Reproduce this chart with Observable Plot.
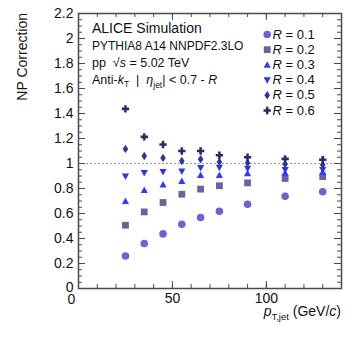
<!DOCTYPE html>
<html>
<head>
<meta charset="utf-8">
<script src="https://cdn.jsdelivr.net/npm/d3@7"></script>
<script src="https://cdn.jsdelivr.net/npm/@observablehq/plot@0.6"></script>
<style>
  html, body { margin: 0; padding: 0; background: #fff; }
  #chart { position: relative; width: 355px; height: 340px; }
  svg { font-family: "Liberation Sans", Arial, Helvetica, sans-serif; }
</style>
</head>
<body>
<div id="chart"></div>
<script>
// ---- data ----
const ptJet = [25, 35, 45, 55, 65, 75, 90, 110, 130];
const npR01 = [0.26, 0.36, 0.437, 0.514, 0.568, 0.618, 0.674, 0.738, 0.774];
const npR02 = [0.506, 0.613, 0.688, 0.754, 0.795, 0.822, 0.845, 0.88, 0.895];
const npR03 = [0.698, 0.786, 0.83, 0.858, 0.906, 0.906, 0.92, 0.925, 0.93];
const npR04 = [0.898, 0.925, 0.933, 0.938, 0.965, 0.968, 0.96, 0.95, 0.95];
const npR05 = [1.117, 1.06, 1.045, 1.02, 1.034, 1.013, 1.005, 0.995, 0.99];
const npR06 = [1.437, 1.213, 1.152, 1.10, 1.10, 1.066, 1.05, 1.037, 1.03];
const radiusLabels = ["0.1", "0.2", "0.3", "0.4", "0.5", "0.6"];
const xTickLabels = [0, 50, 100];
const yTickLabels = [0, 0.2, 0.4, 0.6, 0.8, 1, 1.2, 1.4, 1.6, 1.8, 2, 2.2];

// ---- custom ROOT-like marker shapes ----
const sym = {
  circle: { draw(c, size) { const r = Math.sqrt(size / Math.PI) * 0.95; c.moveTo(r, 0); c.arc(0, 0, r, 0, 2 * Math.PI); } },
  square: { draw(c, size) { const h = Math.sqrt(size / Math.PI) * 0.85; c.rect(-h, -h, 2 * h, 2 * h); } },
  triUp: { draw(c, size) { const r = Math.sqrt(size / Math.PI); c.moveTo(0, -0.92 * r); c.lineTo(0.9 * r, 0.7 * r); c.lineTo(-0.9 * r, 0.7 * r); c.closePath(); } },
  triDown: { draw(c, size) { const r = Math.sqrt(size / Math.PI); c.moveTo(0, 0.92 * r); c.lineTo(0.9 * r, -0.7 * r); c.lineTo(-0.9 * r, -0.7 * r); c.closePath(); } },
  diamond: { draw(c, size) { const r = Math.sqrt(size / Math.PI); c.moveTo(0, -1.05 * r); c.lineTo(0.7 * r, 0); c.lineTo(0, 1.05 * r); c.lineTo(-0.7 * r, 0); c.closePath(); } },
  plus: { draw(c, size) { const r = Math.sqrt(size / Math.PI); const L = 0.92 * r, t = 0.32 * r;
    c.moveTo(-t, -L); c.lineTo(t, -L); c.lineTo(t, -t); c.lineTo(L, -t); c.lineTo(L, t); c.lineTo(t, t);
    c.lineTo(t, L); c.lineTo(-t, L); c.lineTo(-t, t); c.lineTo(-L, t); c.lineTo(-L, -t); c.lineTo(-t, -t); c.closePath(); } }
};

const seriesValues = [npR01, npR02, npR03, npR04, npR05, npR06];
const seriesSymbols = [sym.circle, sym.square, sym.triUp, sym.triDown, sym.diamond, sym.plus];
const seriesColors = ["#6666cc", "#666699", "#2f3cf2", "#2e36e0", "#2f3590", "#292b66"];

const series = seriesValues.map((vals, i) => ({
  label: "R = " + radiusLabels[i],
  symbol: seriesSymbols[i],
  color: seriesColors[i],
  points: ptJet.map((x, j) => ({ pt: x, np: vals[j] }))
}));

// ---- layout ----
const W = 355, H = 340;
const mL = 78, mR = 14, mT = 13, mB = 52;
const fw = W - mL - mR, fh = H - mT - mB;
const axisColor = "#4a4a4a";

const xMinor = d3.range(0, 141, 10);
const yMinor = d3.range(0, 2.2001, 0.05).map(v => +v.toFixed(2));
const majorLen = 7, minorLen = 4;

const marks = [
  Plot.ruleY([1], { stroke: "#999", strokeDasharray: "2,2", strokeWidth: 1 }),
  Plot.tickX(xMinor, { x: d => d, insetTop: fh - minorLen, stroke: axisColor, strokeWidth: 1 }),
  Plot.tickX(xMinor, { x: d => d, insetBottom: fh - minorLen, stroke: axisColor, strokeWidth: 1 }),
  Plot.tickX(xTickLabels, { x: d => d, insetTop: fh - majorLen, stroke: axisColor, strokeWidth: 1 }),
  Plot.tickX(xTickLabels, { x: d => d, insetBottom: fh - majorLen, stroke: axisColor, strokeWidth: 1 }),
  Plot.tickY(yMinor, { y: d => d, insetRight: fw - minorLen, stroke: axisColor, strokeWidth: 1 }),
  Plot.tickY(yMinor, { y: d => d, insetLeft: fw - minorLen, stroke: axisColor, strokeWidth: 1 }),
  Plot.tickY(yTickLabels, { y: d => d, insetRight: fw - majorLen, stroke: axisColor, strokeWidth: 1 }),
  Plot.tickY(yTickLabels, { y: d => d, insetLeft: fw - majorLen, stroke: axisColor, strokeWidth: 1 }),
  Plot.axisX({ ticks: xTickLabels.filter(d => d !== 0), tickSize: 0, tickPadding: 5, label: null, tickFormat: d => String(d), fontSize: 14, fill: "#111" }),
  Plot.axisX({ ticks: [0], tickSize: 0, tickPadding: 6, label: null, tickFormat: d => String(d), fontSize: 14, dx: -7, fill: "#111" }),
  Plot.axisY({ ticks: yTickLabels.filter(d => d !== 0), tickSize: 0, tickPadding: 5, label: null, tickFormat: d => String(+d.toFixed(1)), fontSize: 14, fill: "#111" }),
  Plot.axisY({ ticks: [0], tickSize: 0, tickPadding: 5, label: null, tickFormat: d => String(d), fontSize: 14, dy: -1, fill: "#111" }),
  Plot.frame({ stroke: axisColor, strokeWidth: 1.5 })
];

series.forEach(s => {
  marks.push(Plot.dot(s.points, { x: "pt", y: "np", symbol: s.symbol, fill: s.color, stroke: "none", r: 4 }));
});

series.forEach((s, i) => {
  const dy = 21 + 15.2 * i;
  marks.push(Plot.dot([s], { x: null, y: null, frameAnchor: "top-left", dx: 188.7, dy, symbol: s.symbol, fill: s.color, stroke: "none", r: 4 }));
  marks.push(Plot.text([s], { x: null, y: null, frameAnchor: "top-left", dx: 194, dy, text: d => d.label, textAnchor: "start", lineAnchor: "middle", fontSize: 13, fill: "#111" }));
});

const chart = Plot.plot({
  width: W, height: H,
  marginLeft: mL, marginRight: mR, marginTop: mT, marginBottom: mB,
  style: { fontFamily: '"Liberation Sans", Arial, Helvetica, sans-serif', background: "#fff", overflow: "visible" },
  x: { domain: [0, 140], axis: null },
  y: { domain: [0, 2.2], axis: null },
  marks
});
document.getElementById("chart").appendChild(chart);

const svg = d3.select(chart);

svg.selectAll("text").each(function () {
  const t = d3.select(this);
  const content = this.textContent;
  if (/^R = /.test(content) && this.childElementCount === 0) {
    t.text(null);
    t.append("tspan").attr("font-style", "italic").text("R");
    t.append("tspan").text(content.slice(1));
  }
});

const headerX = 92;
const g = svg.append("g").attr("fill", "#111").attr("text-anchor", "start")
  .attr("font-family", '"Liberation Sans", Arial, Helvetica, sans-serif');

g.append("text").attr("x", headerX).attr("y", 33).attr("font-size", 14).text("ALICE Simulation");
g.append("text").attr("x", headerX).attr("y", 50).attr("font-size", 12).text("PYTHIA8 A14 NNPDF2.3LO");

const l3 = g.append("text").attr("x", headerX).attr("y", 67).attr("font-size", 12.5).attr("xml:space", "preserve");
l3.append("tspan").text("pp  √");
l3.append("tspan").attr("font-style", "italic").text("s");
l3.append("tspan").text(" = 5.02 TeV");

const l4 = g.append("text").attr("x", headerX).attr("y", 83.5).attr("font-size", 12.5).attr("xml:space", "preserve");
l4.append("tspan").text("Anti-");
l4.append("tspan").attr("font-style", "italic").text("k");
l4.append("tspan").attr("font-size", 8.5).attr("dy", 3).text("T");
l4.append("tspan").attr("dy", -3).text("  |  ");
l4.append("tspan").attr("font-style", "italic").text("η");
l4.append("tspan").attr("font-size", 8.5).attr("dy", 4).text("jet");
l4.append("tspan").attr("dy", -4).text("| < 0.7 - ");
l4.append("tspan").attr("font-style", "italic").text("R");

const xt = g.append("text").attr("x", 341).attr("y", 316).attr("font-size", 14).attr("text-anchor", "end");
xt.append("tspan").attr("font-style", "italic").text("p");
xt.append("tspan").attr("font-size", 9.5).attr("dy", 4).text("T,jet");
xt.append("tspan").attr("dy", -4).text(" (GeV/");
xt.append("tspan").attr("font-style", "italic").text("c");
xt.append("tspan").text(")");

g.append("text").attr("transform", "translate(27,13) rotate(-90)").attr("text-anchor", "end")
  .attr("font-size", 14).text("NP Correction");
</script>
</body>
</html>
